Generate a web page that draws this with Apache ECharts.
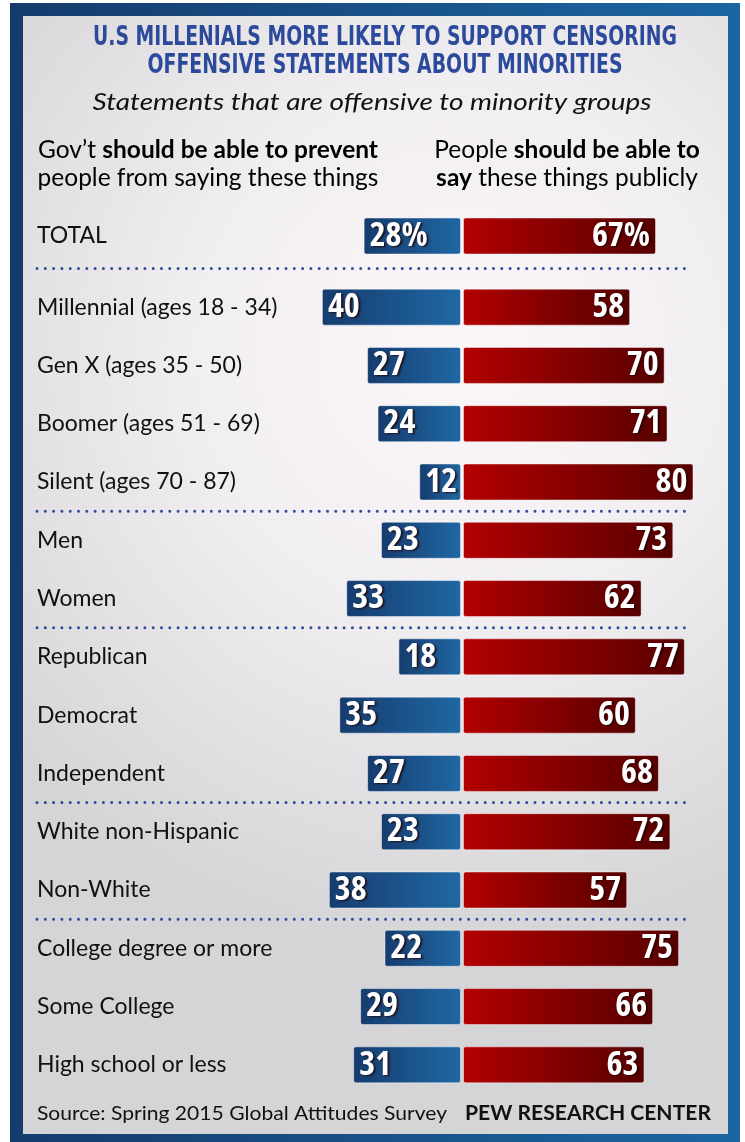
<!DOCTYPE html>
<html>
<head>
<meta charset="utf-8">
<script src="https://cdn.jsdelivr.net/npm/echarts@6/dist/echarts.min.js"></script>
<style>
    html, body { margin: 0; padding: 0; background: #fff; }
    #main { width: 745px; height: 1142px; }
</style>
</head>
<body>
<div id="main"></div>
<script>
var totalCategory = ['TOTAL'];
var totalPrevent = [28];
var totalSay = [67];

var groupCategories = [
    'Millennial (ages 18 - 34)', 'Gen X (ages 35 - 50)', 'Boomer (ages 51 - 69)', 'Silent (ages 70 - 87)',
    'Men', 'Women',
    'Republican', 'Democrat', 'Independent',
    'White non-Hispanic', 'Non-White',
    'College degree or more', 'Some College', 'High school or less'
];
var groupPrevent = [40, 27, 24, 12, 23, 33, 18, 35, 27, 23, 38, 22, 29, 31];
var groupSay = [58, 70, 71, 80, 73, 62, 77, 60, 68, 72, 57, 75, 66, 63];

// dotted rules go below these rows of groupCategories
var separatorAfter = [3, 5, 8, 10];

var BLUE_TXT = '#2c4a9c';
var RED_TXT = '#c8202a';

var ctx = document.createElement('canvas').getContext('2d');
function textWidth(text, font) {
    ctx.font = font;
    return ctx.measureText(text).width;
}
function fitScale(text, font, target) {
    return target / textWidth(text, font);
}

// the numbers use a tall narrow face; pick whichever condensed face is installed
var narrow = { weight: 'bold', family: 'Noto Sans', size: 28 };
(function () {
    var tries = [
        ['extra-condensed', 'Noto Sans'],
        ['condensed', 'Noto Sans'],
        ['condensed', 'DejaVu Sans'],
        ['condensed', 'Open Sans']
    ];
    var best = 1;
    tries.forEach(function (t) {
        var base = textWidth('4080', 'bold 40px "' + t[1] + '"');
        var w = textWidth('4080', 'bold ' + t[0] + ' 40px "' + t[1] + '"');
        var r = w / base;
        if (r < best - 0.03) {
            best = r;
            narrow = { weight: 'bold ' + t[0], family: t[1], size: 34 };
        }
    });
})();

var chart = echarts.init(document.getElementById('main'));

var blueFill = new echarts.graphic.LinearGradient(0, 0, 1, 0, [
    { offset: 0, color: '#163c6e' },
    { offset: 1, color: '#1f68a4' }
]);
var redFill = new echarts.graphic.LinearGradient(0, 0, 1, 0, [
    { offset: 0, color: '#b30000' },
    { offset: 1, color: '#560000' }
]);

var valueLabel = {
    show: true,
    color: '#fff',
    fontFamily: narrow.family,
    fontWeight: narrow.weight,
    fontSize: narrow.size,
    textShadowColor: 'rgba(30,0,0,0.75)',
    textShadowOffsetX: 2,
    textShadowOffsetY: 1,
    textShadowBlur: 2
};

function barSeries(xi, yi, data, fill, pos, pct) {
    return {
        type: 'bar',
        xAxisIndex: xi,
        yAxisIndex: yi,
        data: data,
        barWidth: 37,
        itemStyle: {
            color: fill,
            borderRadius: 2,
            borderColor: 'rgba(255,255,255,0.45)',
            borderWidth: 1
        },
        label: Object.assign({}, valueLabel, {
            position: pos,
            distance: 6,
            formatter: pct ? '{c}%' : '{c}'
        }),
        silent: true
    };
}

var rowLabel = {
    show: true,
    align: 'left',
    margin: 271,
    color: '#111',
    fontFamily: 'Lato',
    fontSize: 23
};

function catAxis(gi, cats, showLabels) {
    return {
        type: 'category',
        gridIndex: gi,
        data: cats,
        inverse: true,
        axisLine: { show: false },
        axisTick: { show: false },
        axisLabel: showLabels ? rowLabel : { show: false }
    };
}

function valAxis(gi, max, inverse) {
    return {
        type: 'value',
        gridIndex: gi,
        min: 0,
        max: max,
        inverse: inverse,
        show: false
    };
}

var titleFont = 'bold 27px "DejaVu Sans"';
var title1 = 'U.S MILLENIALS MORE LIKELY TO SUPPORT CENSORING';
var title2 = 'OFFENSIVE STATEMENTS ABOUT MINORITIES';
var subFont = 'italic 23px Lato';
var subText = 'Statements that are offensive to minority groups';
var srcFont = '20px Lato';
var srcText = 'Source: Spring 2015 Global Attitudes Survey';
var pewFont = 'bold 20px Lato';
var pewText = 'PEW RESEARCH CENTER';

var headRich = {
    n: { fontFamily: 'Lato', fontSize: 24.5, color: '#111' },
    b: { fontFamily: 'Lato', fontSize: 24.5, fontWeight: 'bold', color: BLUE_TXT },
    r: { fontFamily: 'Lato', fontSize: 24.5, fontWeight: 'bold', color: RED_TXT }
};

function headText(id, x, y, text) {
    return {
        type: 'text', id: id, x: x, y: y, z: 100,
        style: { text: text, rich: headRich, align: 'center', textAlign: 'center', verticalAlign: 'middle', textVerticalAlign: 'middle' }
    };
}

function plainText(id, x, y, text, font, color, align, target) {
    return {
        type: 'text', id: id, x: x, y: y, z: 100,
        scaleX: fitScale(text, font, target),
        style: { text: text, font: font, fill: color, align: align, textAlign: align, verticalAlign: 'middle', textVerticalAlign: 'middle' }
    };
}

var option = {
    backgroundColor: '#fff',
    animation: false,
    grid: [
        { left: 308, width: 153, top: 212, height: 48 },
        { left: 463, width: 242, top: 212, height: 48 },
        { left: 308, width: 153, top: 278, height: 816 },
        { left: 463, width: 242, top: 278, height: 816 }
    ],
    xAxis: [
        valAxis(0, 44, true),
        valAxis(1, 84, false),
        valAxis(2, 44, true),
        valAxis(3, 84, false)
    ],
    yAxis: [
        catAxis(0, totalCategory, true),
        catAxis(1, totalCategory, false),
        catAxis(2, groupCategories, true),
        catAxis(3, groupCategories, false)
    ],
    series: [
        barSeries(0, 0, totalPrevent, blueFill, 'insideLeft', true),
        barSeries(1, 1, totalSay, redFill, 'insideRight', true),
        barSeries(2, 2, groupPrevent, blueFill, 'insideLeft', false),
        barSeries(3, 3, groupSay, redFill, 'insideRight', false)
    ],
    graphic: [
        {
            type: 'rect', id: 'frame', z: -100, silent: true,
            shape: { x: 10, y: 3, width: 730, height: 1145 },
            style: {
                fill: new echarts.graphic.LinearGradient(0, 0, 1, 0, [
                    { offset: 0, color: '#153b6d' },
                    { offset: 1, color: '#1b66a2' }
                ])
            }
        },
        {
            type: 'rect', id: 'panel', z: -99, silent: true,
            shape: { x: 23, y: 16, width: 705, height: 1118 },
            style: {
                fill: new echarts.graphic.RadialGradient(0.62, 0.3, 0.85, [
                    { offset: 0, color: '#fbf7f9' },
                    { offset: 0.45, color: '#f1eef1' },
                    { offset: 1, color: '#d5d4d7' }
                ])
            }
        },
        plainText('t1', 385, 38, title1, titleFont, BLUE_TXT, 'center', 584),
        plainText('t2', 385, 66, title2, titleFont, BLUE_TXT, 'center', 475),
        plainText('sub', 372, 103, subText, subFont, '#111', 'center', 559),
        headText('hl1', 208, 150, '{n|Gov\u2019t }{b|should be able to prevent}'),
        headText('hl2', 208, 178, '{n|people from saying these things}'),
        headText('hr1', 567, 150, '{n|People }{r|should be able to}'),
        headText('hr2', 567, 178, '{r|say}{n| these things publicly}'),
        plainText('src', 37, 1114, srcText, srcFont, '#111', 'left', 410),
        plainText('pew', 711, 1114, pewText, pewFont, '#111', 'right', 246)
    ]
};

chart.setOption(option);

// dotted rules sit halfway between neighbouring rows
var ruleYs = [];
var yTotal = chart.convertToPixel({ yAxisIndex: 0 }, totalCategory[0]);
var yFirst = chart.convertToPixel({ yAxisIndex: 2 }, groupCategories[0]);
ruleYs.push((yTotal + yFirst) / 2 - 3);
separatorAfter.forEach(function (i) {
    var a = chart.convertToPixel({ yAxisIndex: 2 }, groupCategories[i]);
    var b = chart.convertToPixel({ yAxisIndex: 2 }, groupCategories[i + 1]);
    ruleYs.push((a + b) / 2);
});

chart.setOption({
    graphic: ruleYs.map(function (y, k) {
        return {
            type: 'line', id: 'rule' + k, z: 50, silent: true,
            shape: { x1: 37, y1: y, x2: 690, y2: y },
            style: { stroke: '#2e4b9b', lineWidth: 3, lineCap: 'round', lineDash: [0, 8.3] }
        };
    })
});
</script>
</body>
</html>
